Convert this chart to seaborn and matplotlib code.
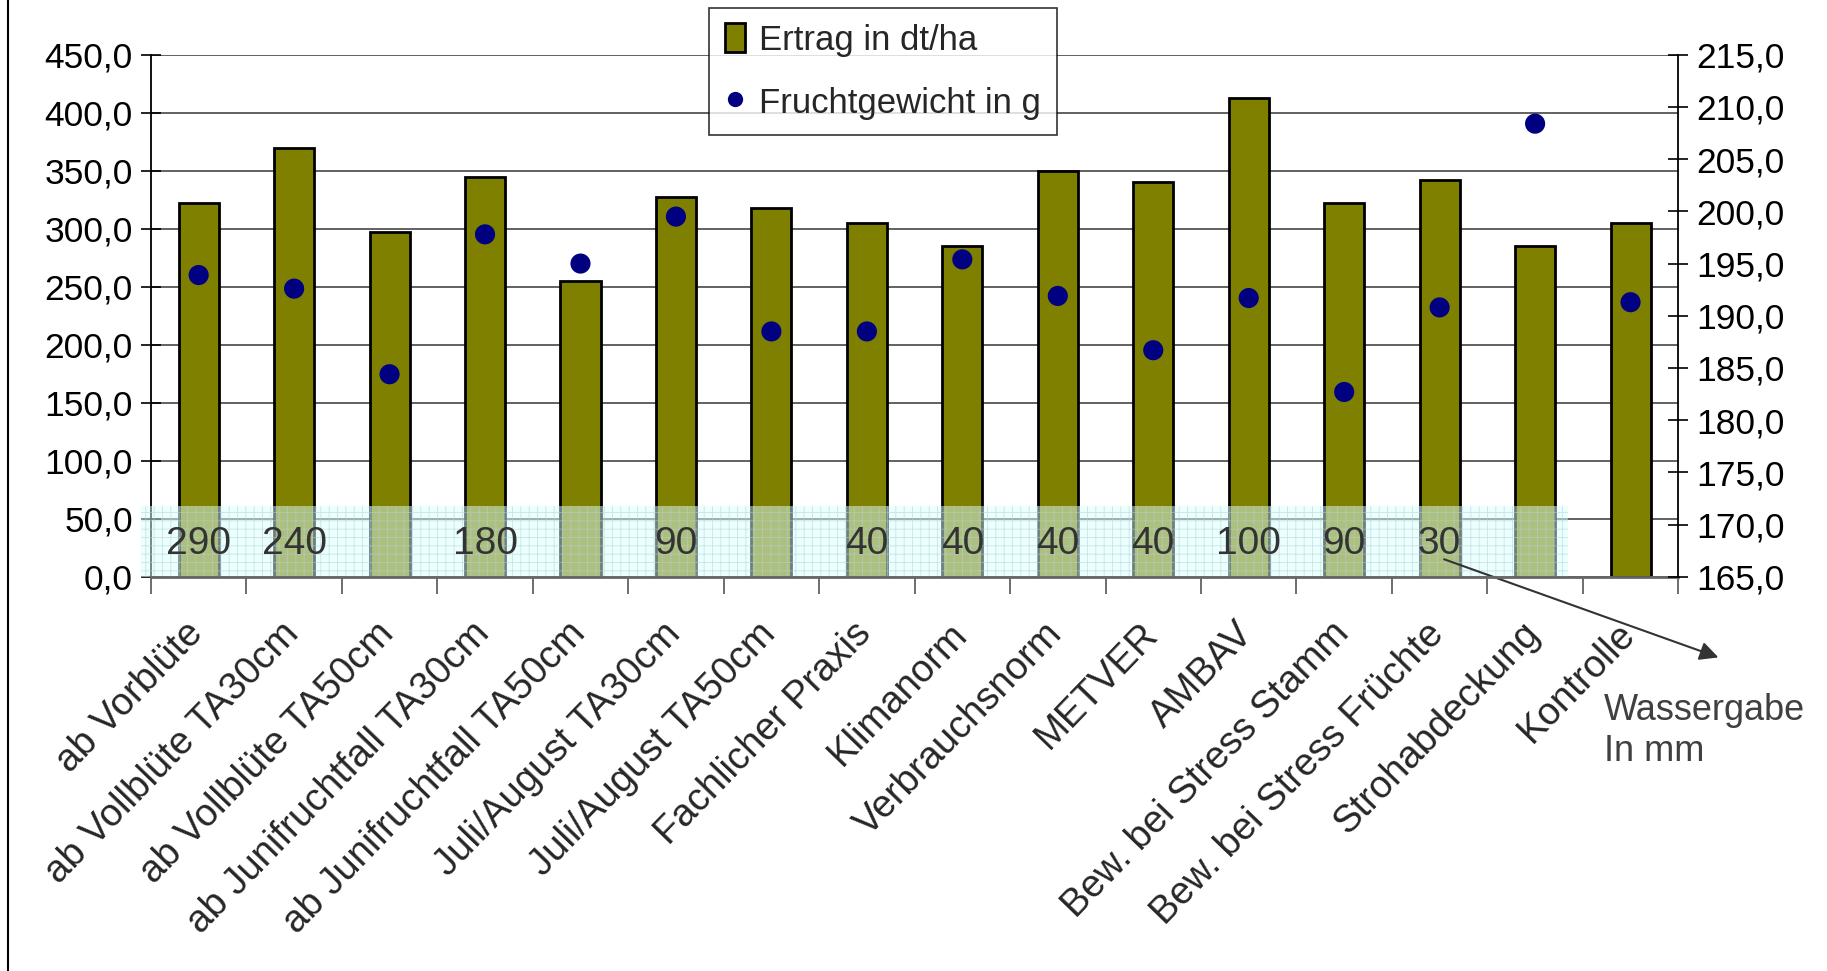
import numpy as np
import seaborn as sns
import matplotlib.pyplot as plt
from matplotlib.patches import Rectangle
from matplotlib.lines import Line2D
from matplotlib.ticker import FuncFormatter, FixedLocator
from matplotlib.transforms import ScaledTranslation

# Data
categories = ['ab Vorblüte', 'ab Vollblüte TA30cm', 'ab Vollblüte TA50cm',
              'ab Junifruchtfall TA30cm', 'ab Junifruchtfall TA50cm',
              'Juli/August TA30cm', 'Juli/August TA50cm', 'Fachlicher Praxis',
              'Klimanorm', 'Verbrauchsnorm', 'METVER', 'AMBAV',
              'Bew. bei Stress Stamm', 'Bew. bei Stress Früchte',
              'Strohabdeckung', 'Kontrolle']
ertrag = [322, 370, 297, 345, 255, 327, 318, 305, 285, 350, 340, 413, 322, 342, 285, 305]
fruchtgewicht = [193.9, 192.6, 184.4, 197.8, 195.0, 199.5, 188.5, 188.5,
                 195.4, 191.9, 186.7, 191.7, 182.7, 190.8, 208.4, 191.3]
wassergabe = ['290', '240', '', '180', '', '90', '', '40',
              '40', '40', '40', '100', '90', '30', '', '']

sns.set_theme(style='white')
plt.rcParams['font.family'] = ['Liberation Sans', 'DejaVu Sans']
plt.rcParams['hatch.linewidth'] = 0.6

fig = plt.figure(figsize=(18.27, 9.71), dpi=100)
ax = fig.add_axes([0.0826, 0.406, 0.836, 0.5376])

# Bars (left axis)
sns.barplot(x=categories, y=ertrag, ax=ax, color='#808000', saturation=1,
            edgecolor='black', linewidth=2, width=0.42, zorder=2)
ax.set_ylim(0, 450)
ax.set_xlim(-0.5, len(categories) - 0.5)
ax.set_yticks(np.arange(0, 451, 50))
ax.yaxis.set_major_formatter(FuncFormatter(lambda v, p: f'{v:.1f}'.replace('.', ',')))
ax.grid(axis='y', color='#555555', linewidth=1.3)
ax.set_axisbelow(True)
ax.set_xlabel('')
ax.set_ylabel('')

# Water band overlay
band = Rectangle((-0.6, 0), 14.94, 61, facecolor=(0.85, 1.0, 1.0, 0.5),
                 edgecolor=(0.7, 0.82, 0.82, 0.6), hatch='++', linewidth=0,
                 zorder=3, clip_on=False)
ax.add_patch(band)
for i, lab in enumerate(wassergabe):
    if lab:
        ax.text(i, 28, lab, ha='center', va='center', fontsize=28,
                color='#333333', zorder=4)

# Dots (right axis)
ax2 = ax.twinx()
sns.scatterplot(x=categories, y=fruchtgewicht, ax=ax2, color='#000080',
                s=210, edgecolor='none', zorder=5)
ax2.set_ylim(165, 215)
ax2.set_yticks(np.arange(165, 216, 5))
ax2.yaxis.set_major_formatter(FuncFormatter(lambda v, p: f'{v:.1f}'.replace('.', ',')))
ax2.set_ylabel('')

# Spines and ticks
for a in (ax, ax2):
    a.spines['top'].set_visible(False)
ax.spines['left'].set_color('black')
ax.spines['left'].set_linewidth(1.3)
ax.spines['bottom'].set_color('#666666')
ax.spines['bottom'].set_linewidth(2)
ax.spines['bottom'].set_zorder(6)
ax.spines['right'].set_visible(False)
ax2.spines['left'].set_visible(False)
ax2.spines['bottom'].set_visible(False)
ax2.spines['right'].set_color('black')
ax2.spines['right'].set_linewidth(1.3)

ax.tick_params(axis='y', left=True, direction='inout', length=14, width=1.2,
               labelsize=25.5, colors='black', pad=6)
ax2.tick_params(axis='y', right=True, direction='inout', length=14, width=1.2,
                labelsize=25.5, colors='black', pad=6)
ax.xaxis.set_minor_locator(FixedLocator(np.arange(-0.5, len(categories), 1.0)))
ax.tick_params(axis='x', which='minor', bottom=True, direction='out', length=12,
               width=1.2, color='#555555')
ax.tick_params(axis='x', which='major', bottom=False, length=0, pad=28)
ax.set_xticks(range(len(categories)))
ax.set_xticklabels(categories, rotation=46, ha='right', rotation_mode='anchor',
                   fontsize=27.5)
shift = ScaledTranslation(-14 / 100, 0, fig.dpi_scale_trans)
for lbl in ax.get_xticklabels():
    lbl.set_transform(lbl.get_transform() + shift)

# Legend
handles = [Rectangle((0, 0), 1, 1, facecolor='#808000', edgecolor='black', linewidth=2),
           Line2D([], [], marker='o', linestyle='none', markersize=11,
                  markerfacecolor='#000080', markeredgecolor='none')]
leg = fig.legend(handles, ['Ertrag in dt/ha', 'Fruchtgewicht in g'],
                 loc='upper left', bbox_to_anchor=(0.388, 0.992), fontsize=25,
                 frameon=True, fancybox=False, edgecolor='black',
                 handlelength=0.6, handleheight=0.9, handletextpad=0.4,
                 borderpad=0.45, labelspacing=0.85, borderaxespad=0)
leg.get_frame().set_linewidth(1.2)

# Annotation for water amount
ax.annotate('', xy=(0.942, 0.322), xycoords='figure fraction',
            xytext=(0.789, 0.425), textcoords='figure fraction',
            arrowprops=dict(arrowstyle='-|>', color='#333333', lw=1.5,
                            mutation_scale=28))
fig.text(0.878, 0.286, 'Wassergabe\nIn mm', ha='left', va='top', fontsize=26,
         color='#404040', linespacing=1.2)

# left border line of the original frame
fig.add_artist(Line2D([0.0045, 0.0045], [0, 1], transform=fig.transFigure,
                      color='black', lw=1.5))

fig.savefig('out.png', dpi=100)
